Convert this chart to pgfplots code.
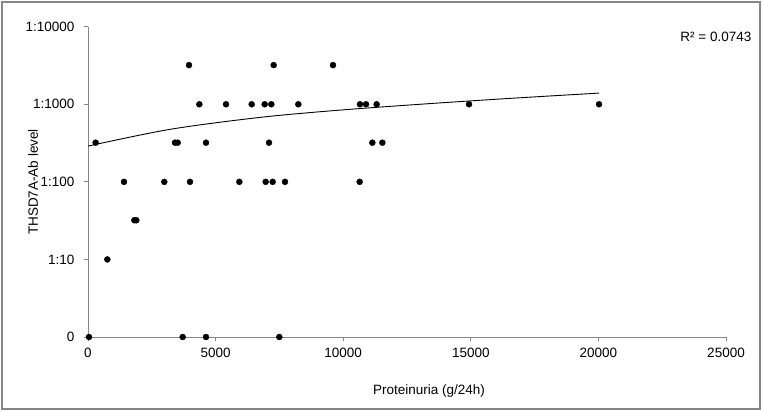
\documentclass[border=0pt]{standalone}
\usepackage{pgfplots}
\pgfplotsset{compat=1.18}
\usepackage{fontspec}
\setmainfont{Liberation Sans}
\definecolor{axgray}{RGB}{134,134,134}
\begin{document}
\fontsize{13.5bp}{16bp}\selectfont
\begin{tikzpicture}[x=1bp,y=1bp]
\useasboundingbox (-88,-74) rectangle (674,337);
\draw[axgray,line width=1.6bp] (-86,-72) rectangle (672,335);
\begin{axis}[
  at={(0,0)}, anchor=origin,
  scale only axis,
  width=638bp, height=310.3bp,
  xmin=0, xmax=25000, ymin=0, ymax=4,
  clip=false,
  axis x line*=bottom, axis y line*=left,
  axis line style={axgray, line width=0.8bp, -},
  xtick={0,5000,10000,15000,20000,25000},
  ytick={0,1,2,3,4},
  yticklabels={0,1:10,1:100,1:1000,1:10000},
  scaled x ticks=false,
  xticklabel style={/pgf/number format/1000 sep={}},
  /pgf/number format/assume math mode=true,
  tick style={axgray, line width=0.8bp},
  major tick length=4bp,
  x tick label style={yshift=-2bp},
  y tick label style={xshift=-5bp},
  tick align=outside,
  ticklabel style={font=\fontsize{13.5bp}{16bp}\selectfont},
]
\addplot[only marks, mark=*, mark size=3bp, black] coordinates {
(39,0) (3710,0) (4624,0) (7497,0)
(757,1)
(1816,1.505) (1894,1.505)
(300,2.505) (3409,2.505) (3514,2.505) (4624,2.505) (7093,2.505) (11142,2.505) (11534,2.505)
(1411,2) (2990,2) (3997,2) (5930,2) (6962,2) (7236,2) (7719,2) (10645,2)
(4363,3) (5408,3) (6414,3) (6923,3) (7184,3) (8242,3) (10658,3) (10893,3) (11311,3) (14930,3) (20024,3)
(3958,3.505) (7275,3.505) (9600,3.505)
};
\addplot[black, line width=0.9bp, smooth] coordinates {
(0,2.461) (3213,2.677) (6740,2.831) (9875,2.925) (13401,3.009) (16732,3.080) (20024,3.144)
};
\end{axis}
\node[anchor=center] at (341,-54) {Proteinuria (g/24h)};
\node[anchor=center, rotate=90] at (-55,155) {THSD7A-Ab level};
\node[anchor=east] at (668,299.7) {R² = 0.0743};
\end{tikzpicture}
\end{document}
